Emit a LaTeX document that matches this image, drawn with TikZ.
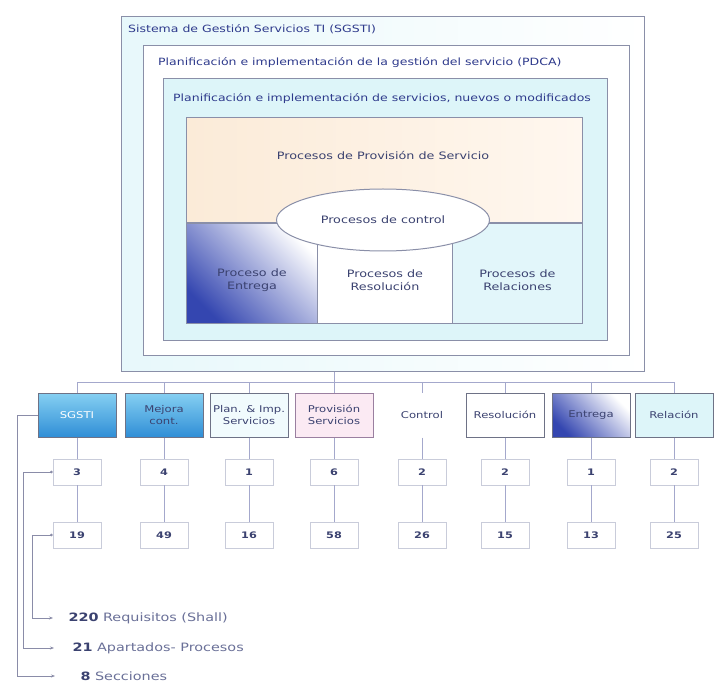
\documentclass[tikz,border=0pt]{standalone}
\usepackage{fontspec}
\setmainfont[FakeStretch=1.25]{DejaVu Sans}
\usetikzlibrary{arrows.meta,shapes.geometric,calc}

\definecolor{frameline}{HTML}{8A8FA8}
\definecolor{labelblue}{HTML}{2E3A8C}
\definecolor{txt}{HTML}{3B4270}
\definecolor{softtxt}{HTML}{6A7098}
\definecolor{cyanfill}{HTML}{DDF5F9}
\definecolor{peach}{HTML}{FBEBD8}
\definecolor{peachlight}{HTML}{FFF7EF}
\definecolor{deepblue}{HTML}{3446B0}
\definecolor{skyA}{HTML}{86D0F2}
\definecolor{skyB}{HTML}{2F8ED6}
\definecolor{pinkfill}{HTML}{FBEAF3}
\definecolor{pinkline}{HTML}{9A7FA0}
\definecolor{lineC}{HTML}{A4A8CC}
\definecolor{bracketC}{HTML}{8A8CA8}
\definecolor{numline}{HTML}{C9CCDA}

\tikzset{
  frame/.style={draw=frameline, line width=1.2pt, anchor=north west, inner sep=0pt},
  flabel/.style={anchor=west, text=labelblue, font=\fontsize{10}{12}\selectfont, inner sep=0pt},
  cell/.style={draw=frameline, line width=1pt, anchor=north west, inner sep=0pt},
  ctext/.style={text=txt, font=\fontsize{10.2}{13}\selectfont, align=center},
  topbox/.style={draw=frameline!80!black, line width=1pt, minimum width=78pt,
    minimum height=44pt, font=\fontsize{9.3}{11.5}\selectfont, align=center,
    text=txt, inner sep=1pt},
  numbox/.style={draw=numline, line width=0.8pt, fill=white, minimum width=48pt,
    minimum height=26pt, font=\bfseries\fontsize{9}{10}\selectfont, text=txt},
  link/.style={draw=lineC, line width=0.8pt},
  bracket/.style={draw=bracketC, line width=0.8pt},
  summary/.style={anchor=west, font=\fontsize{11.5}{13}\selectfont, text=softtxt},
}

\begin{document}
\begin{tikzpicture}[x=1pt,y=-1pt]
\useasboundingbox (0,0) rectangle (714,684);
\fill[white] (0,0) rectangle (714,684);

% nested management frames
\node[frame, left color=cyanfill!70, right color=white,
      minimum width=523pt, minimum height=355pt] (outer) at (121,16) {};
\node[frame, fill=white, minimum width=486pt, minimum height=310pt] (pdca) at (143,45) {};
\node[frame, fill=cyanfill, minimum width=444pt, minimum height=262pt] (svc) at (163,78) {};

\node[flabel] (lblA) at (128,29) {Sistema de Gestión Servicios TI (SGSTI)};
\node[flabel] (lblB) at (158,63) {Planificación e implementación de la gestión del servicio (PDCA)};
\node[flabel] (lblC) at (173,99) {Planificación e implementación de servicios, nuevos o modificados};

% process cells
\node[cell, left color=peach, right color=peachlight,
      minimum width=396pt, minimum height=105pt] (prov) at (186,117) {};
\node[cell, top color=white, bottom color=deepblue, shading angle=-45,
      minimum width=131pt, minimum height=101pt] (entc) at (186,222) {};
\node[cell, fill=white, minimum width=135pt, minimum height=101pt] (resc) at (317,222) {};
\node[cell, fill=cyanfill!85, minimum width=130pt, minimum height=101pt] (relc) at (452,222) {};
\draw[frameline, line width=2pt] (prov.south west) -- (prov.south east);

\node[ctext] (provlbl) at (383,155) {Procesos de Provisión de Servicio};
\node[ctext] (entlbl) at ($(entc.center)+(0,7)$) {Proceso de\\Entrega};
\node[ctext] (reslbl) at ($(resc.center)+(0,7)$) {Procesos de\\Resolución};
\node[ctext] (rellbl) at ($(relc.center)+(0,7)$) {Procesos de\\Relaciones};

\node[ellipse, draw=frameline, line width=1pt, fill=white, minimum width=213pt,
      minimum height=62pt, text=txt, font=\fontsize{10.2}{13}\selectfont] (ctl) at (383,220) {Procesos de control};

% section boxes
\node[topbox, top color=skyA, bottom color=skyB, text=white] (c1) at (77,415) {SGSTI};
\node[topbox, top color=skyA, bottom color=skyB] (c2) at (164,415) {Mejora\\cont.};
\node[topbox, fill=cyanfill!40] (c3) at (249,415) {Plan. \& Imp.\\Servicios};
\node[topbox, fill=pinkfill, draw=pinkline] (c4) at (334,415) {Provisión\\Servicios};
\node[topbox, draw=none] (c5) at (422,415) {Control};
\node[topbox, fill=white] (c6) at (505,415) {Resolución};
\node[topbox, top color=white, bottom color=deepblue, shading angle=-45] (c7) at (591,415) {Entrega};
\node[topbox, fill=cyanfill] (c8) at (674,415) {Relación};

% counts per section
\coordinate (rowB) at (0,472);
\coordinate (rowC) at (0,535);
\coordinate (bus) at (0,382);
\foreach \i/\a/\b in {1/3/19, 2/4/49, 3/1/16, 4/6/58, 5/2/26, 6/2/15, 7/1/13, 8/2/25} {
  \node[numbox] (n\i) at (c\i |- rowB) {\a};
  \node[numbox] (r\i) at (c\i |- rowC) {\b};
  \draw[link] (c\i |- bus) -- (c\i.north);
  \draw[link] (c\i.south) -- (n\i.north);
  \draw[link] (n\i.south) -- (r\i.north);
}
\draw[link] (c1 |- bus) -- (c8 |- bus);
\draw[link] (outer.south -| c4) -- (c4 |- bus);

% totals
\node[summary] (t1) at (65,618) {\textbf{\color{txt}220} Requisitos (Shall)};
\node[summary] (t2) at (69,648) {\textbf{\color{txt}21} Apartados- Procesos};
\node[summary] (t3) at (77,676) {\textbf{\color{txt}8} Secciones};

\coordinate (xo) at (17,0);
\coordinate (xm) at (23,0);
\coordinate (xi) at (32,0);
\draw[bracket, -{Stealth[length=4pt]}, shorten >=22pt] (c1.west) -| (xo |- t3.west) -- (t3.west);
\draw[bracket, {Circle[length=2.5pt]}-{Stealth[length=4pt]}, shorten >=15pt] (n1.west) -| (xm |- t2.west) -- (t2.west);
\draw[bracket, {Circle[length=2.5pt]}-{Stealth[length=4pt]}, shorten >=12pt] (r1.west) -| (xi |- t1.west) -- (t1.west);
\end{tikzpicture}
\end{document}
